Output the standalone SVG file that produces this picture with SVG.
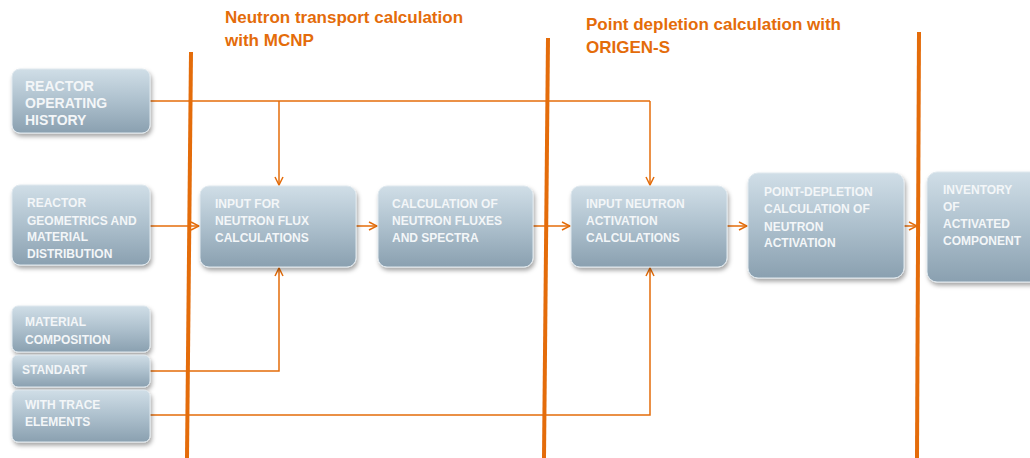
<svg xmlns="http://www.w3.org/2000/svg" width="1030" height="458" viewBox="0 0 1030 458">
<defs>
<linearGradient id="g" x1="0" y1="0" x2="0" y2="1">
<stop offset="0" stop-color="#d0dee7"/>
<stop offset="0.5" stop-color="#adc0cd"/>
<stop offset="1" stop-color="#8aa0b0"/>
</linearGradient>
<filter id="sh" x="-10%" y="-10%" width="125%" height="135%">
<feDropShadow dx="1.5" dy="3" stdDeviation="2" flood-color="#000" flood-opacity="0.35"/>
</filter>
<marker id="a" viewBox="0 0 10 10" refX="9" refY="5" markerWidth="10" markerHeight="10" markerUnits="userSpaceOnUse" orient="auto">
<path d="M1,1 L9,5 L1,9" fill="none" stroke="#e46c0a" stroke-width="1.5"/>
</marker>
</defs>
<style>
.box{fill:url(#g);stroke:#dfe8ee;stroke-width:1;filter:url(#sh)}
.t{font-family:"Liberation Sans",Arial,sans-serif;font-weight:bold;font-size:12px;fill:#f3f6f8}
.tb{font-size:14px}
.title{font-family:"Liberation Sans",Arial,sans-serif;font-weight:bold;font-size:17px;fill:#e46c0a}
.bar{stroke:#e46c0a;stroke-width:4;fill:none}
.c{stroke:#e46c0a;stroke-width:1.5;fill:none}
.ca{stroke:#e46c0a;stroke-width:1.5;fill:none;marker-end:url(#a)}
</style>
<rect width="1030" height="458" fill="#fff"/>
<g id="titles">
<text class="title" x="225" y="23">Neutron transport calculation</text>
<text class="title" x="225" y="46">with MCNP</text>
<text class="title" x="586" y="30">Point depletion calculation with</text>
<text class="title" x="586" y="53">ORIGEN-S</text>
</g>
<g id="connectors">
<polyline class="c" points="150,101 650,101"/>
<polyline class="ca" points="279,101 279,185"/>
<polyline class="ca" points="650,101 650,185"/>
<polyline class="ca" points="150,226 199,226"/>
<polyline class="ca" points="356,226 377,226"/>
<polyline class="ca" points="533,226 570,226"/>
<polyline class="ca" points="727,226 747,226"/>
<polyline class="ca" points="904,226 917,226"/>
<polyline class="ca" points="150,371 279,371 279,268"/>
<polyline class="ca" points="150,415 650,415 650,268"/>
</g>
<g id="bars">
<line class="bar" x1="191" y1="52" x2="187" y2="458"/>
<line class="bar" x1="548" y1="38" x2="544" y2="458"/>
<line class="bar" x1="919" y1="32" x2="917" y2="458"/>
</g>
<g id="n1"><rect class="box" x="12" y="69" width="138" height="64" rx="8"/>
<text class="t tb" x="25" y="91">REACTOR</text><text class="t tb" x="25" y="108">OPERATING</text><text class="t tb" x="25" y="125">HISTORY</text></g>
<g id="n2"><rect class="box" x="12" y="185" width="138" height="80" rx="8"/>
<text class="t" x="27" y="207">REACTOR</text><text class="t" x="27" y="225">GEOMETRICS AND</text><text class="t" x="27" y="241">MATERIAL</text><text class="t" x="27" y="258">DISTRIBUTION</text></g>
<g id="n3"><rect class="box" x="12" y="306" width="138" height="46" rx="6"/>
<text class="t" x="25" y="326">MATERIAL</text><text class="t" x="25" y="344">COMPOSITION</text></g>
<g id="n4"><rect class="box" x="12" y="355" width="138" height="32" rx="6"/>
<text class="t" x="22" y="374">STANDART</text></g>
<g id="n5"><rect class="box" x="12" y="390" width="138" height="52" rx="6"/>
<text class="t" x="25" y="409">WITH TRACE</text><text class="t" x="25" y="426">ELEMENTS</text></g>
<g id="n6"><rect class="box" x="200" y="186" width="156" height="81" rx="9"/>
<text class="t" x="215" y="208">INPUT FOR</text><text class="t" x="215" y="225">NEUTRON FLUX</text><text class="t" x="215" y="242">CALCULATIONS</text></g>
<g id="n7"><rect class="box" x="378" y="186" width="155" height="81" rx="9"/>
<text class="t" x="392" y="208">CALCULATION OF</text><text class="t" x="392" y="225">NEUTRON FLUXES</text><text class="t" x="392" y="242">AND SPECTRA</text></g>
<g id="n8"><rect class="box" x="571" y="186" width="156" height="81" rx="9"/>
<text class="t" x="586" y="208">INPUT NEUTRON</text><text class="t" x="586" y="225">ACTIVATION</text><text class="t" x="586" y="242">CALCULATIONS</text></g>
<g id="n9"><rect class="box" x="748" y="173" width="156" height="105" rx="10"/>
<text class="t" x="764" y="196">POINT-DEPLETION</text><text class="t" x="764" y="213">CALCULATION OF</text><text class="t" x="764" y="231">NEUTRON</text><text class="t" x="764" y="247">ACTIVATION</text></g>
<g id="n10"><rect class="box" x="927" y="172" width="115" height="110" rx="10"/>
<text class="t" x="943" y="194">INVENTORY</text><text class="t" x="943" y="211">OF</text><text class="t" x="943" y="228">ACTIVATED</text><text class="t" x="943" y="245">COMPONENT</text></g>
</svg>
